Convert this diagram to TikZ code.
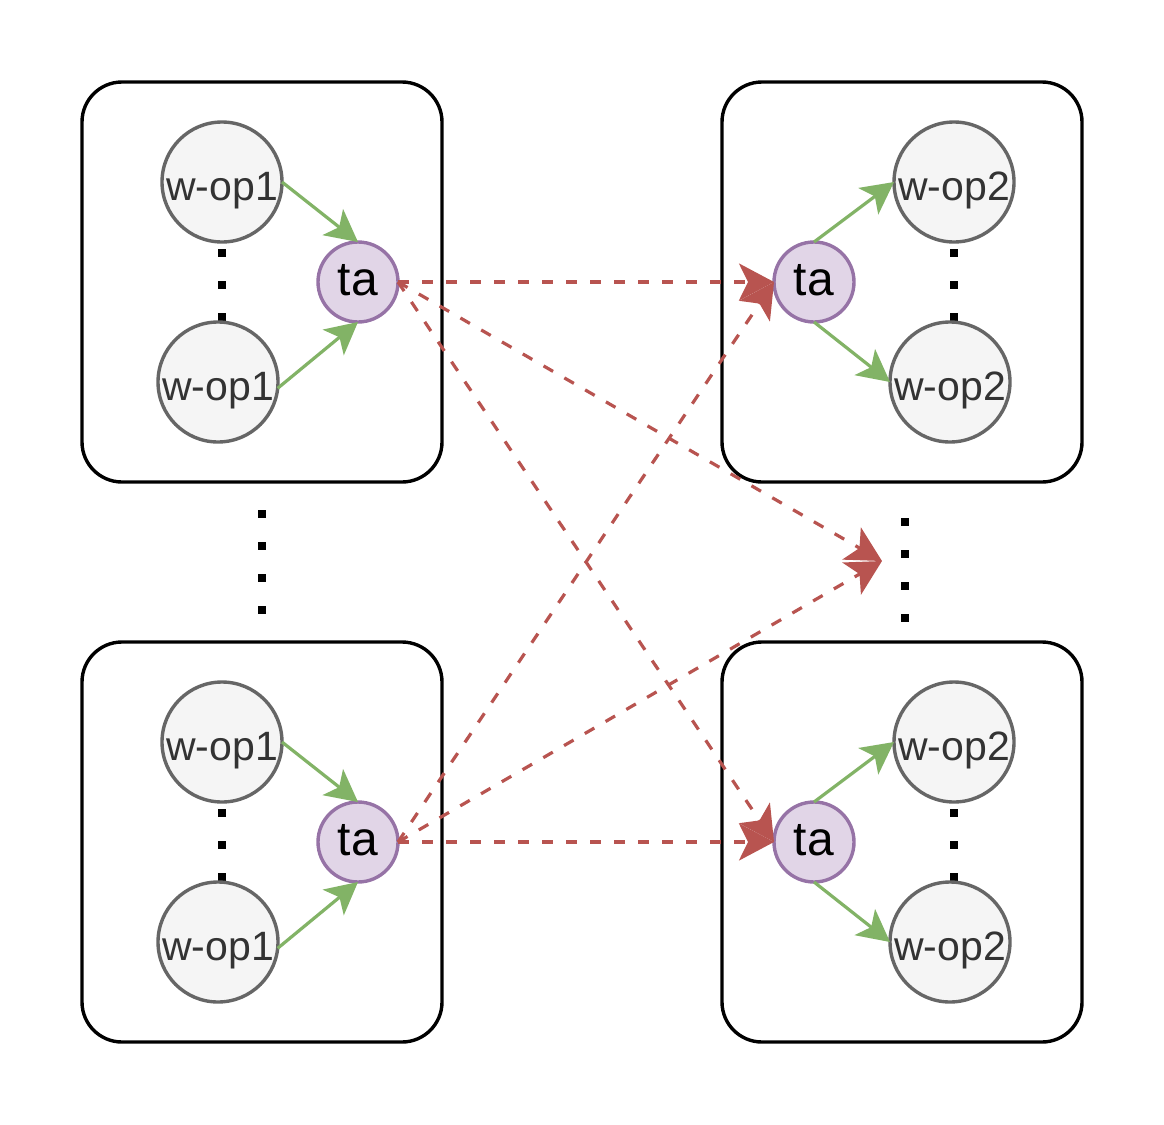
\documentclass[tikz,border=0pt]{standalone}
\usepackage{fontspec}
\setmainfont{Liberation Sans}
\usetikzlibrary{arrows.meta}
\definecolor{gline}{HTML}{82B366}
\definecolor{rline}{HTML}{B85450}
\definecolor{taline}{HTML}{9673A6}
\definecolor{tafill}{HTML}{E1D5E7}
\definecolor{opline}{HTML}{666666}
\definecolor{opfill}{HTML}{F5F5F5}
\definecolor{optext}{HTML}{333333}
\begin{document}
\begin{tikzpicture}[x=1pt,y=-1pt,
  box/.style={draw=black, line width=3.4pt, rounded corners=40pt, minimum width=360pt, minimum height=400pt, inner sep=0pt, outer sep=0pt},
  op/.style={circle, draw=opline, fill=opfill, line width=3.4pt, minimum size=120pt, inner sep=0pt, outer sep=0pt, text=optext, font=\fontsize{41}{43}\selectfont, text height=36pt, text depth=0pt},
  tanode/.style={circle, draw=taline, fill=tafill, line width=3.4pt, minimum size=80pt, inner sep=0pt, outer sep=0pt, text=black, font=\fontsize{48}{50}\selectfont, text height=27pt, text depth=0pt},
  garrow/.style={draw=gline, line width=3.2pt, -{Stealth[length=32pt,width=33pt,inset=8pt]}},
  rarrow/.style={draw=rline, line width=3.2pt, dash pattern=on 11pt off 13pt, -{Stealth[length=35pt,width=37pt,inset=9pt]}},
  dotline/.style={line width=8pt, dash pattern=on 8pt off 24pt}
]
\useasboundingbox (0,0) rectangle (1164,1124);

% boxes
\node[box] (b1) at (262,282) {};
\node[box] (b2) at (902,282) {};
\node[box] (b3) at (262,842) {};
\node[box] (b4) at (902,842) {};

% dotted lines
\coordinate (d1a) at (222,249); \coordinate (d1b) at (222,322);
\coordinate (d2a) at (954,249); \coordinate (d2b) at (954,322);
\coordinate (d3a) at (222,809); \coordinate (d3b) at (222,882);
\coordinate (d4a) at (954,809); \coordinate (d4b) at (954,882);
\coordinate (dLa) at (262,510); \coordinate (dLb) at (262,614);
\coordinate (dRa) at (905,518); \coordinate (dRb) at (905,622);
\draw[dotline] (d1a) -- (d1b);
\draw[dotline] (d2a) -- (d2b);
\draw[dotline] (d3a) -- (d3b);
\draw[dotline] (d4a) -- (d4b);
\draw[dotline] (dLa) -- (dLb);
\draw[dotline] (dRa) -- (dRb);

% top-left group
\node[op] (w1a) at (222,182) {w-op1};
\node[op] (w1b) at (218,382) {w-op1};
\node[tanode] (t1) at (358,282) {ta};
% top-right group
\node[tanode] (t2) at (814,282) {ta};
\node[op] (w2a) at (954,182) {w-op2};
\node[op] (w2b) at (950,382) {w-op2};
% bottom-left group
\node[op] (w3a) at (222,742) {w-op1};
\node[op] (w3b) at (218,942) {w-op1};
\node[tanode] (t3) at (358,842) {ta};
% bottom-right group
\node[tanode] (t4) at (814,842) {ta};
\node[op] (w4a) at (954,742) {w-op2};
\node[op] (w4b) at (950,942) {w-op2};

% green arrows
\draw[garrow] (w1a.east) -- (t1.north);
\draw[garrow] (w1b.-6) -- (t1.south);
\draw[garrow] (t2.north) -- (w2a.west);
\draw[garrow] (t2.south) -- (w2b.west);
\draw[garrow] (w3a.east) -- (t3.north);
\draw[garrow] (w3b.-6) -- (t3.south);
\draw[garrow] (t4.north) -- (w4a.west);
\draw[garrow] (t4.south) -- (w4b.west);

% red dashed arrows
\coordinate (mid) at (882,561);
\draw[rarrow] (t1.east) -- (t2.west);
\draw[rarrow] (t1.east) -- (mid);
\draw[rarrow] (t1.east) -- (t4.west);
\draw[rarrow] (t3.east) -- (t2.west);
\draw[rarrow] (t3.east) -- (mid);
\draw[rarrow] (t3.east) -- (t4.west);
\end{tikzpicture}
\end{document}
